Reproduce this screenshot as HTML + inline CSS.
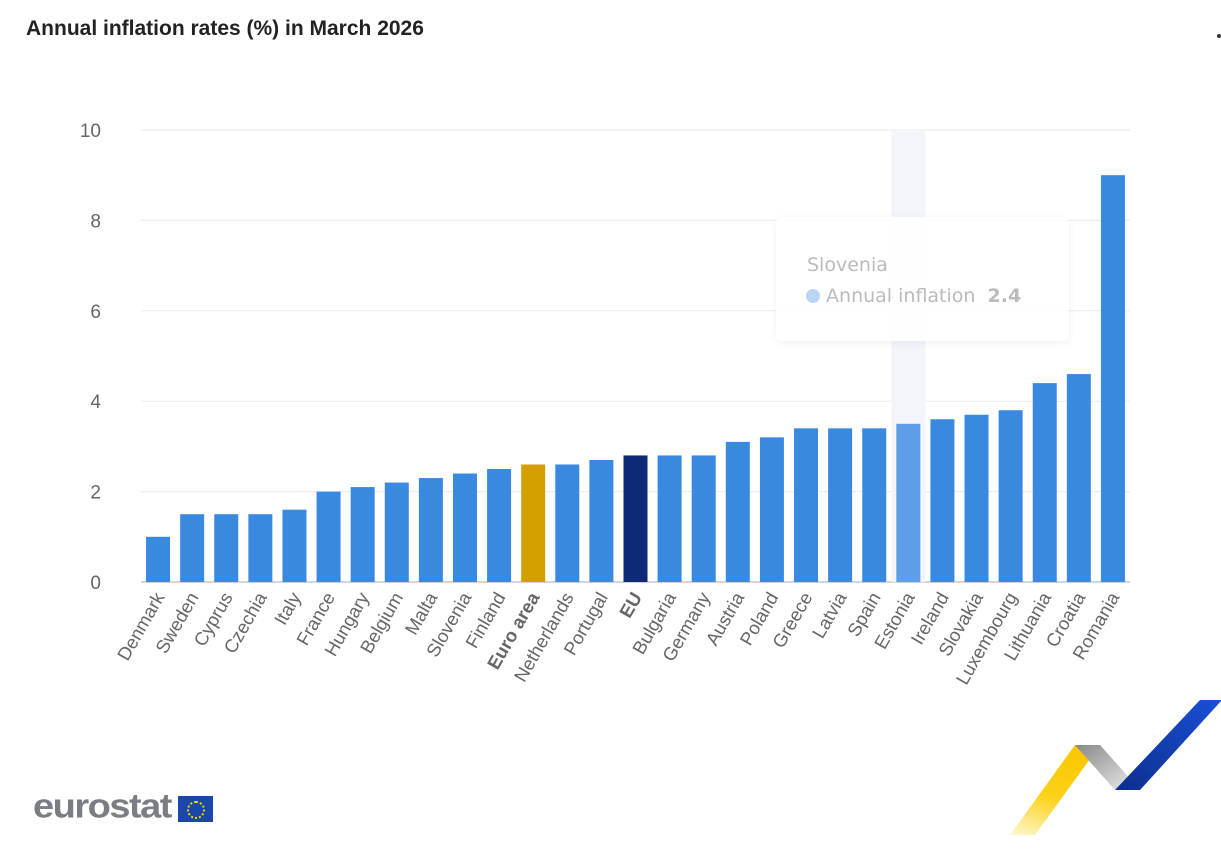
<!DOCTYPE html>
<html><head><meta charset="utf-8"><style>
body{margin:0;width:1221px;height:862px;background:#fff;font-family:"Liberation Sans",sans-serif;overflow:hidden;position:relative}
</style></head><body>
<div style="position:absolute;left:26px;top:17px;font-size:21px;font-weight:bold;color:#222">Annual inflation rates (%) in March 2026</div>
<div style="position:absolute;left:1217px;top:34px;width:4px;height:4px;border-radius:2px;background:#333"></div>
<svg id="chart" width="1221" height="862" style="position:absolute;left:0;top:0"></svg>
<div style="position:absolute;left:776px;top:217px;width:293px;height:124px;background:rgba(255,255,255,0.85);border-radius:6px;box-shadow:0 2px 8px rgba(0,0,0,0.06);font-family:'DejaVu Sans',sans-serif">
<div style="position:absolute;left:31px;top:37px;font-size:19px;color:#bbb">Slovenia</div>
<div style="position:absolute;left:30px;top:68px;font-size:19px;color:#bbb;white-space:nowrap"><span style="display:inline-block;width:14px;height:14px;border-radius:7px;background:#b9d6f5;vertical-align:-1px"></span> Annual inflation&nbsp;&nbsp;<b>2.4</b></div>
</div>
<div style="position:absolute;left:33px;top:788px;font-size:38px;font-weight:bold;color:#7b7d85;letter-spacing:-1.5px;transform:scaleY(0.9);transform-origin:top left">eurostat</div>
<div style="position:absolute;left:178px;top:796px;width:35px;height:26px;background:#1a47a8"><div style="position:absolute;left:9px;top:5px;width:14px;height:14px;border:2px dotted #f2d600;border-radius:50%"></div></div>
<svg width="240" height="170" style="position:absolute;left:990px;top:695px">
<defs><linearGradient id="gy" x1="0" y1="1" x2="0.3" y2="0"><stop offset="0" stop-color="#fff8d0"/><stop offset="0.5" stop-color="#fcd21a"/><stop offset="1" stop-color="#f9c800"/></linearGradient>
<linearGradient id="gg" x1="0" y1="0" x2="1" y2="1"><stop offset="0" stop-color="#888"/><stop offset="1" stop-color="#eee"/></linearGradient>
<linearGradient id="gb" x1="0" y1="1" x2="1" y2="0"><stop offset="0" stop-color="#0b2f8c"/><stop offset="1" stop-color="#1b4fd8"/></linearGradient></defs>
<polygon points="20,140 85,50 110,50 45,140" fill="url(#gy)"/>
<polygon points="85,50 110,50 150,95 125,95" fill="url(#gg)"/>
<polygon points="125,95 150,95 232,5 210,5" fill="url(#gb)"/>
</svg>
<script>
const categories=["Denmark","Sweden","Cyprus","Czechia","Italy","France","Hungary","Belgium","Malta","Slovenia","Finland","Euro area","Netherlands","Portugal","EU","Bulgaria","Germany","Austria","Poland","Greece","Latvia","Spain","Estonia","Ireland","Slovakia","Luxembourg","Lithuania","Croatia","Romania"];
const values=[1.0,1.5,1.5,1.5,1.6,2.0,2.1,2.2,2.3,2.4,2.5,2.6,2.6,2.7,2.8,2.8,2.8,3.1,3.2,3.4,3.4,3.4,3.5,3.6,3.7,3.8,4.4,4.6,9.0];
const yTicks=[0,2,4,6,8,10];
const NS="http://www.w3.org/2000/svg";
const svg=document.getElementById('chart');
const x0=141,x1=1130,y0=582,y1=130,yMax=10;
const step=(x1-x0)/categories.length,bw=24;
const y=v=>y0-(y0-y1)*v/yMax;
const xc=i=>x0+step*(i+0.5);
function mk(t,a){const e=document.createElementNS(NS,t);for(const k in a)e.setAttribute(k,a[k]);svg.appendChild(e);return e;}
yTicks.forEach(t=>{
 const g=mk('line',{x1:x0,x2:x1,y1:y(t),y2:y(t),stroke:t===0?'#aab':'#e8e9f0','stroke-width':1});
 
 
 const l=mk('text',{x:101,y:y(t)+7,'text-anchor':'end','font-size':19,fill:'#666','font-family':'Liberation Sans'});
 l.textContent=t;
 
 
});
const hi=categories.indexOf("Estonia");
const band=mk('rect',{x:xc(hi)-step/2,y:y1,width:step,height:y0-y1,fill:'#f3f5fb'});


categories.forEach((c,i)=>{
 let col='#3a89e0';
 if(c==='Euro area')col='#d4a000';else if(c==='EU')col='#0e2a77';else if(i===hi)col='#5c9fe8';
 const r=mk('rect',{x:xc(i)-bw/2,y:y(values[i]),width:bw,height:y0-y(values[i]),fill:col});
 
 
 const bold=(c==='Euro area'||c==='EU');
 const t=mk('text',{x:xc(i)+7,y:597,'text-anchor':'end','font-size':18.5,fill:'#666','font-weight':bold?'bold':'normal','font-family':'Liberation Sans',transform:`rotate(-60 ${xc(i)+7} 597)`});
 t.textContent=c;
 
 
});
</script>
</body></html>
